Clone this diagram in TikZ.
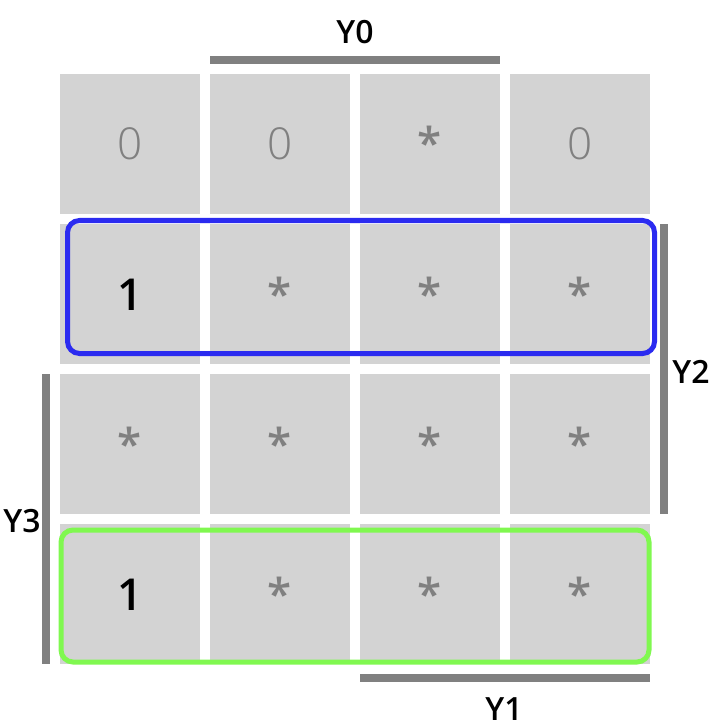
\documentclass[tikz,border=0pt]{standalone}
\usepackage{fontspec}
\setmainfont{Open Sans}
\IfFontExistsTF{Open Sans SemiBold}{\newfontfamily\semifont{Open Sans SemiBold}}{%
  \IfFontExistsTF{Open Sans Semibold}{\newfontfamily\semifont{Open Sans Semibold}}{\newcommand\semifont{\normalfont}}}
\IfFontExistsTF{Open Sans Light}{\newfontfamily\lightfont{Open Sans Light}}{\newcommand\lightfont{\normalfont}}
\definecolor{cellgray}{HTML}{D3D3D3}
\definecolor{bargray}{HTML}{808080}
\definecolor{grpblue}{HTML}{2B2BF0}
\definecolor{grpgreen}{HTML}{80F850}
\begin{document}
\begin{tikzpicture}[x=1pt,y=-1pt]
        \tikzset{cellbox/.style={fill=cellgray,minimum width=140pt,minimum height=140pt,inner sep=0pt},
    valzero/.style={text=bargray,font=\lightfont\fontsize{44}{48}\selectfont},
    valdim/.style={text=bargray,font=\semifont\fontsize{44}{48}\selectfont},
    valone/.style={text=black,font=\semifont\fontsize{44}{48}\selectfont},
    lbl/.style={font=\semifont\fontsize{32}{36}\selectfont},
    bar/.style={draw=bargray,line width=8pt},
    grp/.style={line width=5pt,rounded corners=12pt}}
        \useasboundingbox (0,0) rectangle (714,727);
        \foreach \row [count=\r] in {{valzero/0,valzero/0,valdim/*,valzero/0},{valone/1,valdim/*,valdim/*,valdim/*},{valdim/*,valdim/*,valdim/*,valdim/*},{valone/1,valdim/*,valdim/*,valdim/*}} {
          \foreach \s/\v [count=\c] in \row {
            \node[cellbox] (c\r\c) at ({130+150*(\c-1)},{144+150*(\r-1)}) {};
            \node[\s,anchor=base] (v\r\c) at ([yshift=-16pt]c\r\c.center) {\v};
          }
        }
        \draw [grp,draw=grpblue] (67.5,220.5) rectangle (654.5,353.5);
        \draw [grp,draw=grpgreen] (61,530) rectangle (649,662);
        \draw [bar] (210,60) -- (500,60);
        \draw [bar] (663.5,224) -- (663.5,514);
        \draw [bar] (360,678) -- (650,678);
        \draw [bar] (46,374) -- (46,664);
        \node[lbl] (y0) at (355,32) {Y0};
        \node[lbl] (y2) at (691,372) {Y2};
        \node[lbl] (y1) at (504,709) {Y1};
        \node[lbl] (y3) at (22,521) {Y3};
    \end{tikzpicture}
\end{document}
